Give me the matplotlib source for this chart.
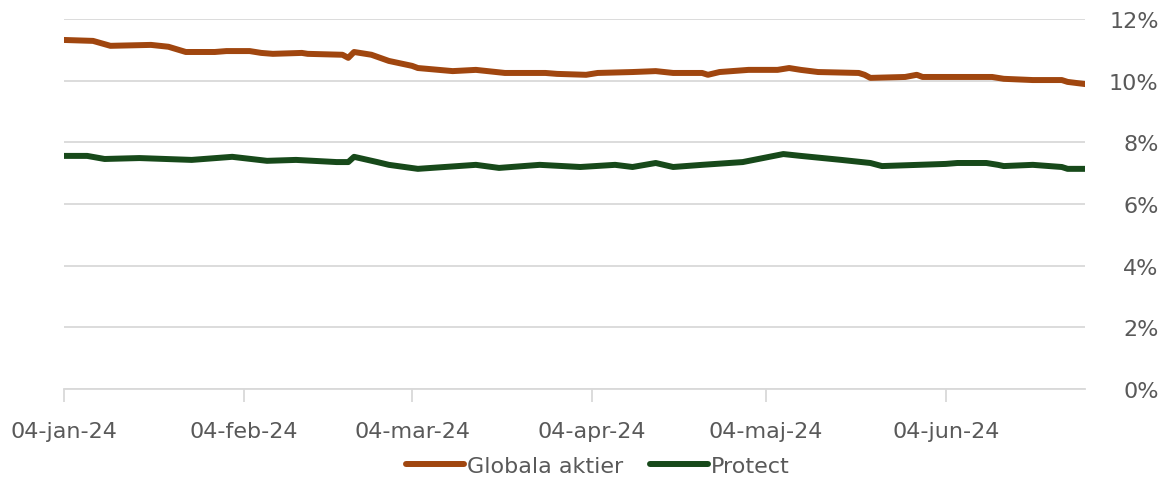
import numpy as np
import pandas as pd
import matplotlib
matplotlib.use("Agg")
import matplotlib.pyplot as plt
from matplotlib.ticker import FuncFormatter

plt.rcParams["font.family"] = ["DejaVu Sans"]

# Globala aktier (date, %)
glob_dates = ["2024-01-04", "2024-01-09", "2024-01-12", "2024-01-19", "2024-01-22",
              "2024-01-25", "2024-01-30", "2024-02-01", "2024-02-05", "2024-02-07",
              "2024-02-09", "2024-02-14", "2024-02-15", "2024-02-21", "2024-02-22",
              "2024-02-23", "2024-02-26", "2024-02-29", "2024-03-04", "2024-03-05",
              "2024-03-11", "2024-03-15", "2024-03-20", "2024-03-27", "2024-03-29",
              "2024-04-03", "2024-04-05", "2024-04-11", "2024-04-15", "2024-04-18",
              "2024-04-23", "2024-04-24", "2024-04-26", "2024-05-01", "2024-05-06",
              "2024-05-08", "2024-05-10", "2024-05-13", "2024-05-20", "2024-05-21",
              "2024-05-22", "2024-05-28", "2024-05-30", "2024-05-31", "2024-06-12",
              "2024-06-14", "2024-06-19", "2024-06-24", "2024-06-25", "2024-06-28"]
glob_vals = [11.32, 11.29, 11.13, 11.16, 11.10, 10.93, 10.93, 10.96, 10.96, 10.90,
             10.87, 10.90, 10.87, 10.84, 10.74, 10.93, 10.84, 10.64, 10.48, 10.41,
             10.31, 10.35, 10.25, 10.25, 10.22, 10.19, 10.25, 10.28, 10.31, 10.25,
             10.25, 10.19, 10.28, 10.35, 10.35, 10.41, 10.35, 10.28, 10.25, 10.19,
             10.09, 10.12, 10.19, 10.12, 10.12, 10.06, 10.02, 10.02, 9.96, 9.89]

# Protect
prot_dates = ["2024-01-04", "2024-01-08", "2024-01-11", "2024-01-17", "2024-01-26",
              "2024-02-02", "2024-02-08", "2024-02-13", "2024-02-20", "2024-02-22",
              "2024-02-23", "2024-02-27", "2024-02-29", "2024-03-05", "2024-03-15",
              "2024-03-19", "2024-03-26", "2024-04-02", "2024-04-08", "2024-04-11",
              "2024-04-15", "2024-04-18", "2024-04-23", "2024-04-30", "2024-05-07",
              "2024-05-10", "2024-05-17", "2024-05-22", "2024-05-24", "2024-06-04",
              "2024-06-06", "2024-06-11", "2024-06-13", "2024-06-14", "2024-06-19",
              "2024-06-24", "2024-06-25", "2024-06-28"]
prot_vals = [7.56, 7.56, 7.46, 7.49, 7.43, 7.53, 7.40, 7.43, 7.36, 7.36,
             7.53, 7.36, 7.27, 7.14, 7.27, 7.17, 7.27, 7.20, 7.27, 7.20,
             7.33, 7.20, 7.27, 7.36, 7.62, 7.56, 7.43, 7.33, 7.23, 7.30,
             7.33, 7.33, 7.27, 7.23, 7.27, 7.20, 7.14, 7.14]

month_ticks = ["2024-01-04", "2024-02-04", "2024-03-04", "2024-04-04", "2024-05-04", "2024-06-04"]
month_labels = ["04-jan-24", "04-feb-24", "04-mar-24", "04-apr-24", "04-maj-24", "04-jun-24"]

brown = "#A0460F"
green = "#17491A"
grey = "#595959"

fig = plt.figure(figsize=(11.73, 4.81), dpi=100)
ax = fig.add_axes([64 / 1173, 91 / 481, (1085 - 64) / 1173, 370 / 481])

ax.plot(pd.to_datetime(glob_dates), glob_vals, color=brown, lw=4.3,
        solid_capstyle="round", solid_joinstyle="round", label="Globala aktier")
ax.plot(pd.to_datetime(prot_dates), prot_vals, color=green, lw=4.3,
        solid_capstyle="round", solid_joinstyle="round", label="Protect")

ax.set_ylim(0, 12)
ax.set_xlim(pd.Timestamp("2024-01-04"), pd.Timestamp("2024-06-28"))
ax.set_yticks(np.arange(0, 13, 2))
ax.yaxis.tick_right()
ax.yaxis.set_major_formatter(FuncFormatter(lambda v, p: f"{v:.0f}%"))
ax.grid(axis="y", color="#D9D9D9", lw=1.3)
ax.set_axisbelow(True)

ax.set_xticks(pd.to_datetime(month_ticks))
ax.set_xticklabels(month_labels)

for s in ["top", "left", "right"]:
    ax.spines[s].set_visible(False)
ax.spines["bottom"].set_color("#D9D9D9")
ax.spines["bottom"].set_linewidth(1.3)

ax.tick_params(axis="x", length=9, width=1.3, color="#D9D9D9", labelcolor=grey,
               labelsize=16, pad=14)
ax.tick_params(axis="y", length=0, labelcolor=grey, labelsize=16, pad=53)
for lab in ax.get_yticklabels():
    lab.set_horizontalalignment("right")

fig.legend(loc="center", bbox_to_anchor=(598 / 1173, 14 / 481), ncol=2, frameon=False,
           fontsize=16, labelcolor=grey, handlelength=2.6, handletextpad=0.15,
           columnspacing=1.2)

fig.savefig("out.png", dpi=100)
